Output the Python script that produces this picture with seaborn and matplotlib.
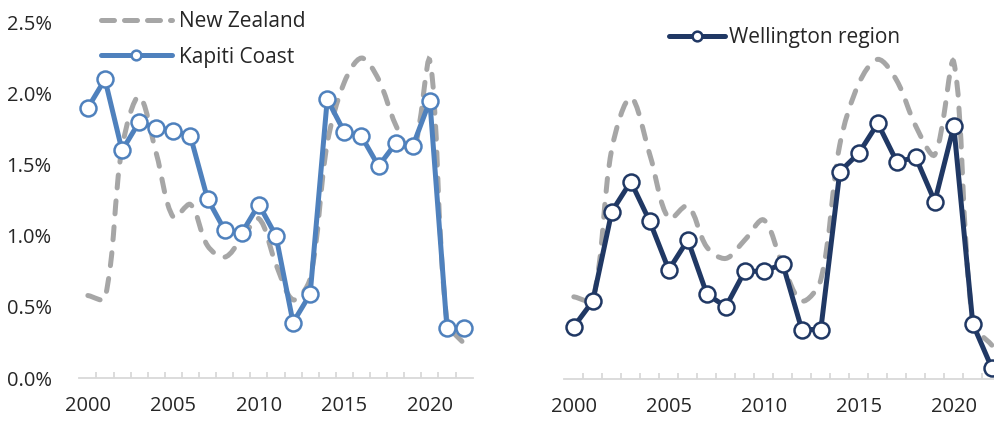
import numpy as np
import pandas as pd
import seaborn as sns
import matplotlib
matplotlib.use("Agg")
import matplotlib.pyplot as plt
from matplotlib.path import Path
from matplotlib.patches import PathPatch
from matplotlib.lines import Line2D
from matplotlib.ticker import FuncFormatter, FixedLocator

# Annual population growth (%)
years = list(range(2000, 2023))
new_zealand = [0.58, 0.56, 1.62, 1.98, 1.58, 1.13, 1.22, 0.93, 0.85, 0.98, 1.12, 0.80,
               0.55, 0.70, 1.65, 2.08, 2.25, 2.10, 1.78, 1.58, 2.23, 0.40, 0.24]
kapiti_coast = [1.90, 2.10, 1.60, 1.80, 1.76, 1.74, 1.70, 1.26, 1.04, 1.02, 1.22, 1.00,
                0.39, 0.59, 1.96, 1.73, 1.70, 1.49, 1.65, 1.63, 1.95, 0.35, 0.35]
wellington_region = [0.37, 0.55, 1.18, 1.39, 1.11, 0.77, 0.98, 0.60, 0.51, 0.76, 0.76, 0.81,
                     0.35, 0.35, 1.46, 1.59, 1.80, 1.53, 1.56, 1.25, 1.78, 0.39, 0.08]
tick_years = [2000, 2005, 2010, 2015, 2020]
y_ticks = [0.0, 0.5, 1.0, 1.5, 2.0, 2.5]

df = pd.DataFrame({"year": years, "nz": new_zealand,
                   "kapiti": kapiti_coast, "wellington": wellington_region})

sns.set_theme(style="white")
plt.rcParams["font.family"] = ["Open Sans", "DejaVu Sans"]

NZ_GREY = "#a6a6a6"
KAPITI_BLUE = "#4f81bd"
WGTN_NAVY = "#203864"
AXIS_GREY = "#d9d9d9"
TEXT = "#262626"
FS = 14.5

fig = plt.figure(figsize=(9.95, 4.21), dpi=100)
ax_l = fig.add_axes([79.3 / 995, 43 / 421, 393.3 / 995, 355.5 / 421])
ax_r = fig.add_axes([564.3 / 995, 41.7 / 421, 437 / 995, 355.5 / 421])


def smooth_curve(ax, xs, ys):
    """Bezier path through every point; control arms scale with the
    on-screen length of the neighbouring segments."""
    pts = ax.transData.transform(np.column_stack([xs, ys]))
    n = len(pts)
    verts = [pts[0]]
    codes = [Path.MOVETO]
    out_ctrl, in_ctrl = [None] * n, [None] * n
    for i in range(n):
        prev = pts[i - 1] if i > 0 else pts[i]
        nxt = pts[i + 1] if i < n - 1 else pts[i]
        tangent = nxt - prev
        d1 = np.hypot(*(pts[i] - prev))
        d2 = np.hypot(*(nxt - pts[i]))
        tot = d1 + d2 if d1 + d2 > 0 else 1.0
        in_ctrl[i] = pts[i] - tangent * d1 / tot / 3
        out_ctrl[i] = pts[i] + tangent * d2 / tot / 3
    for i in range(n - 1):
        verts += [out_ctrl[i], in_ctrl[i + 1], pts[i + 1]]
        codes += [Path.CURVE4] * 3
    inv = ax.transData.inverted()
    return Path(inv.transform(np.array(verts)), codes)


def style_axes(ax, show_y):
    ax.set_xlim(1999.5, 2022.5)
    ax.set_ylim(0, 2.5)
    for s in ["top", "right", "left"]:
        ax.spines[s].set_visible(False)
    ax.spines["bottom"].set_color(AXIS_GREY)
    ax.spines["bottom"].set_linewidth(1.3)
    ax.xaxis.set_major_locator(FixedLocator(tick_years))
    ax.xaxis.set_minor_locator(FixedLocator([y + 0.5 for y in years[:-1]]))
    ax.tick_params(axis="x", which="major", length=0, pad=13, labelsize=FS, labelcolor=TEXT)
    ax.tick_params(axis="x", which="minor", length=4, width=1.3, color=AXIS_GREY,
                   direction="in", bottom=True)
    ax.set_yticks(y_ticks)
    ax.yaxis.set_major_formatter(FuncFormatter(lambda v, _: f"{v:.1f}%"))
    ax.tick_params(axis="y", length=0, pad=20, labelsize=FS, labelcolor=TEXT,
                   labelleft=show_y)
    ax.grid(False)
    ax.set_xlabel("")
    ax.set_ylabel("")


def draw_nz(ax):
    patch = PathPatch(smooth_curve(ax, df["year"].values, df["nz"].values),
                      facecolor="none", edgecolor=NZ_GREY, lw=3.6,
                      linestyle=(0, (2.6, 2.6)), capstyle="round", zorder=1)
    ax.add_patch(patch)


def draw_series(ax, col, color):
    sns.lineplot(data=df, x="year", y=col, ax=ax, color=color, lw=3.6,
                 marker="o", markersize=11.5, markerfacecolor="white",
                 markeredgecolor=color, markeredgewidth=1.8, zorder=3,
                 clip_on=False)


for ax, col, color, show_y in [(ax_l, "kapiti", KAPITI_BLUE, True),
                               (ax_r, "wellington", WGTN_NAVY, False)]:
    ax.set_xlim(1999.5, 2022.5)
    ax.set_ylim(0, 2.5)
    draw_nz(ax)
    draw_series(ax, col, color)
    style_axes(ax, show_y)

nz_handle = Line2D([], [], color=NZ_GREY, lw=3.6, linestyle=(0, (2.6, 2.0)),
                   dash_capstyle="round")
kap_handle = Line2D([], [], color=KAPITI_BLUE, lw=3.6, marker="o", markersize=7,
                    markerfacecolor="white", markeredgecolor=KAPITI_BLUE, markeredgewidth=1.8)
wel_handle = Line2D([], [], color=WGTN_NAVY, lw=3.6, marker="o", markersize=7,
                    markerfacecolor="white", markeredgecolor=WGTN_NAVY, markeredgewidth=1.8)

fig.legend([nz_handle, kap_handle], ["New Zealand", "Kapiti Coast"],
           loc="upper left", bbox_to_anchor=(101 / 995, 1 - 11 / 421),
           frameon=False, fontsize=15, handlelength=3.4, handletextpad=0.35,
           labelspacing=0.7, borderpad=0, borderaxespad=0, labelcolor=TEXT)
fig.legend([wel_handle], ["Wellington region"],
           loc="upper left", bbox_to_anchor=(669 / 995, 1 - 27 / 421),
           frameon=False, fontsize=15, handlelength=2.7, handletextpad=0.2,
           borderpad=0, borderaxespad=0, labelcolor=TEXT)

fig.savefig("out.png", dpi=100)
